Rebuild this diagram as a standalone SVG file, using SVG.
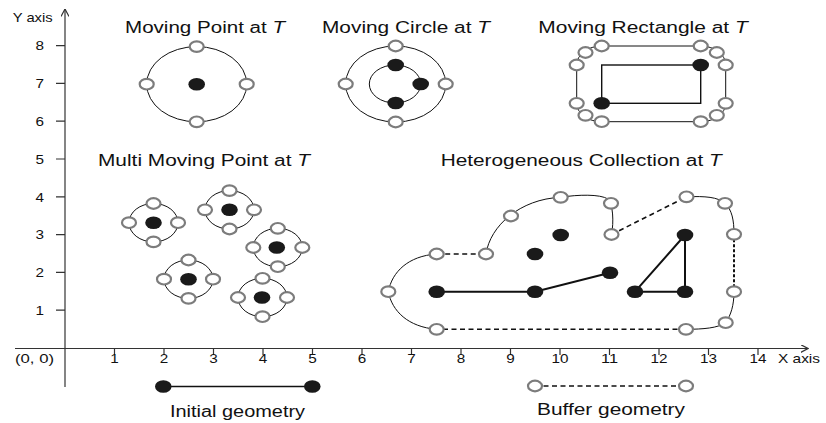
<svg xmlns="http://www.w3.org/2000/svg" width="826" height="423" viewBox="0 0 826 423">
<defs>
<style>
text{font-family:"Liberation Sans",Arial,sans-serif;fill:#111}
.title{font-size:16px}
.lab{font-size:13px}
.it{font-style:italic}
.axis{fill:none;stroke:#333;stroke-width:1.2}
.thin{fill:none;stroke:#111;stroke-width:1}
.mid{fill:none;stroke:#111;stroke-width:1.4}
.thick{fill:none;stroke:#111;stroke-width:2}
.dash{fill:none;stroke:#111;stroke-width:1.6;stroke-dasharray:5 3.5}
.dotted{fill:none;stroke:#111;stroke-width:2;stroke-dasharray:3 2}
.hollow{fill:#fff;stroke:#7c7c7c;stroke-width:2.2}
.dot{fill:#1a1a1a}
</style>
<marker id="arr" viewBox="0 0 8 8" refX="7.5" refY="4" markerWidth="8" markerHeight="8" markerUnits="userSpaceOnUse" orient="auto">
<path d="M0,0 L7.5,4 L0,8" fill="none" stroke="#333" stroke-width="1.2"/>
</marker>
</defs>
<rect width="826" height="423" fill="#fff"/>

<g id="axes">
<line x1="65" y1="387" x2="65" y2="9" class="axis" marker-end="url(#arr)"/>
<line x1="15" y1="348.5" x2="808" y2="348.5" class="axis" marker-end="url(#arr)"/>
<path class="axis" d="M56,45.6H65M56,83.4H65M56,121.2H65M56,159H65M56,196.8H65M56,234.6H65M56,272.4H65M56,310.2H65"/>
<path class="axis" d="M114.5,348.5V355M164,348.5V355M213.5,348.5V355M263,348.5V355M312.5,348.5V355M362,348.5V355M411.5,348.5V355M461,348.5V355M510.5,348.5V355M560,348.5V355M609.5,348.5V355M659,348.5V355M708.5,348.5V355M758,348.5V355"/>
<g class="lab" text-anchor="end">
<text x="44" y="50.3" textLength="8.5" lengthAdjust="spacingAndGlyphs">8</text>
<text x="44" y="88.1" textLength="8.5" lengthAdjust="spacingAndGlyphs">7</text>
<text x="44" y="125.9" textLength="8.5" lengthAdjust="spacingAndGlyphs">6</text>
<text x="44" y="163.7" textLength="8.5" lengthAdjust="spacingAndGlyphs">5</text>
<text x="44" y="201.5" textLength="8.5" lengthAdjust="spacingAndGlyphs">4</text>
<text x="44" y="239.3" textLength="8.5" lengthAdjust="spacingAndGlyphs">3</text>
<text x="44" y="277.1" textLength="8.5" lengthAdjust="spacingAndGlyphs">2</text>
<text x="44" y="314.9" textLength="8.5" lengthAdjust="spacingAndGlyphs">1</text>
</g>
<g class="lab" text-anchor="middle">
<text x="114.5" y="362.5" textLength="8.5" lengthAdjust="spacingAndGlyphs">1</text>
<text x="164" y="362.5" textLength="8.5" lengthAdjust="spacingAndGlyphs">2</text>
<text x="213.5" y="362.5" textLength="8.5" lengthAdjust="spacingAndGlyphs">3</text>
<text x="263" y="362.5" textLength="8.5" lengthAdjust="spacingAndGlyphs">4</text>
<text x="312.5" y="362.5" textLength="8.5" lengthAdjust="spacingAndGlyphs">5</text>
<text x="362" y="362.5" textLength="8.5" lengthAdjust="spacingAndGlyphs">6</text>
<text x="411.5" y="362.5" textLength="8.5" lengthAdjust="spacingAndGlyphs">7</text>
<text x="461" y="362.5" textLength="8.5" lengthAdjust="spacingAndGlyphs">8</text>
<text x="510.5" y="362.5" textLength="8.5" lengthAdjust="spacingAndGlyphs">9</text>
<text x="560" y="362.5" textLength="17" lengthAdjust="spacingAndGlyphs">10</text>
<text x="609.5" y="362.5" textLength="17" lengthAdjust="spacingAndGlyphs">11</text>
<text x="659" y="362.5" textLength="17" lengthAdjust="spacingAndGlyphs">12</text>
<text x="708.5" y="362.5" textLength="17" lengthAdjust="spacingAndGlyphs">13</text>
<text x="758" y="362.5" textLength="17" lengthAdjust="spacingAndGlyphs">14</text>
</g>
<text class="lab" x="12.7" y="22" textLength="40" lengthAdjust="spacingAndGlyphs">Y axis</text>
<text class="lab" x="15" y="362.5" textLength="39" lengthAdjust="spacingAndGlyphs">(0, 0)</text>
<text class="lab" x="778" y="362.5" textLength="42" lengthAdjust="spacingAndGlyphs">X axis</text>
</g>

<g id="moving-point">
<text class="title" x="125" y="32.5" textLength="160" lengthAdjust="spacingAndGlyphs">Moving Point at <tspan class="it">T</tspan></text>
<ellipse cx="196.7" cy="84.2" rx="50" ry="37.6" class="thin"/>
<ellipse cx="146.7" cy="84.2" rx="7" ry="5.3" class="hollow"/>
<ellipse cx="246.7" cy="84.2" rx="7" ry="5.3" class="hollow"/>
<ellipse cx="196.7" cy="46.6" rx="7" ry="5.3" class="hollow"/>
<ellipse cx="196.7" cy="121.8" rx="7" ry="5.3" class="hollow"/>
<ellipse cx="196.7" cy="84.2" rx="8.3" ry="6.3" class="dot"/>
</g>

<g id="moving-circle">
<text class="title" x="322" y="32.5" textLength="168" lengthAdjust="spacingAndGlyphs">Moving Circle at <tspan class="it">T</tspan></text>
<ellipse cx="395.7" cy="84" rx="50" ry="38" class="thin"/>
<ellipse cx="395" cy="84" rx="25.7" ry="19" class="thin"/>
<ellipse cx="345.7" cy="84" rx="7" ry="5.3" class="hollow"/>
<ellipse cx="445.7" cy="84" rx="7" ry="5.3" class="hollow"/>
<ellipse cx="395.7" cy="46" rx="7" ry="5.3" class="hollow"/>
<ellipse cx="395.7" cy="122" rx="7" ry="5.3" class="hollow"/>
<ellipse cx="395.7" cy="65" rx="8.3" ry="6.3" class="dot"/>
<ellipse cx="420.7" cy="84" rx="8.3" ry="6.3" class="dot"/>
<ellipse cx="395.7" cy="103" rx="8.3" ry="6.3" class="dot"/>
</g>

<g id="moving-rectangle">
<text class="title" x="538.3" y="32.5" textLength="209.5" lengthAdjust="spacingAndGlyphs">Moving Rectangle at <tspan class="it">T</tspan></text>
<path class="thin" d="M601.7,46H700.7A25,19 0 0 1 725.7,65V103.3A25,18.4 0 0 1 700.7,121.7H601.7A25,18.4 0 0 1 576.7,103.3V65A25,19 0 0 1 601.7,46Z"/>
<rect x="601.7" y="65" width="99" height="38.3" class="mid"/>
<ellipse cx="601.7" cy="46" rx="7" ry="5.3" class="hollow"/>
<ellipse cx="700.7" cy="46" rx="7" ry="5.3" class="hollow"/>
<ellipse cx="585.5" cy="52.5" rx="7" ry="5.3" class="hollow"/>
<ellipse cx="716.8" cy="52.5" rx="7" ry="5.3" class="hollow"/>
<ellipse cx="576.7" cy="65" rx="7" ry="5.3" class="hollow"/>
<ellipse cx="725.7" cy="65" rx="7" ry="5.3" class="hollow"/>
<ellipse cx="576.7" cy="103.3" rx="7" ry="5.3" class="hollow"/>
<ellipse cx="725.7" cy="103.3" rx="7" ry="5.3" class="hollow"/>
<ellipse cx="585.5" cy="115.3" rx="7" ry="5.3" class="hollow"/>
<ellipse cx="716.8" cy="115.3" rx="7" ry="5.3" class="hollow"/>
<ellipse cx="601.7" cy="121.7" rx="7" ry="5.3" class="hollow"/>
<ellipse cx="700.7" cy="121.7" rx="7" ry="5.3" class="hollow"/>
<ellipse cx="601.7" cy="103.3" rx="8.3" ry="6.3" class="dot"/>
<ellipse cx="700.7" cy="65" rx="8.3" ry="6.3" class="dot"/>
</g>

<g id="multi-moving-point">
<text class="title" x="98" y="165.5" textLength="212" lengthAdjust="spacingAndGlyphs">Multi Moving Point at <tspan class="it">T</tspan></text>
<g id="mmp-1">
<ellipse cx="153.5" cy="222.7" rx="24.5" ry="19.2" class="thin"/>
<ellipse cx="129" cy="222.7" rx="7" ry="5.3" class="hollow"/>
<ellipse cx="178" cy="222.7" rx="7" ry="5.3" class="hollow"/>
<ellipse cx="153.5" cy="203.5" rx="7" ry="5.3" class="hollow"/>
<ellipse cx="153.5" cy="241.9" rx="7" ry="5.3" class="hollow"/>
<ellipse cx="153.5" cy="222.7" rx="8.3" ry="6.3" class="dot"/>
</g>
<g id="mmp-2">
<ellipse cx="229.5" cy="209.8" rx="24.5" ry="19.2" class="thin"/>
<ellipse cx="205" cy="209.8" rx="7" ry="5.3" class="hollow"/>
<ellipse cx="254" cy="209.8" rx="7" ry="5.3" class="hollow"/>
<ellipse cx="229.5" cy="190.6" rx="7" ry="5.3" class="hollow"/>
<ellipse cx="229.5" cy="229" rx="7" ry="5.3" class="hollow"/>
<ellipse cx="229.5" cy="209.8" rx="8.3" ry="6.3" class="dot"/>
</g>
<g id="mmp-3">
<ellipse cx="277.8" cy="247.5" rx="24.5" ry="19.2" class="thin"/>
<ellipse cx="253.3" cy="247.5" rx="7" ry="5.3" class="hollow"/>
<ellipse cx="302.3" cy="247.5" rx="7" ry="5.3" class="hollow"/>
<ellipse cx="277.8" cy="228.3" rx="7" ry="5.3" class="hollow"/>
<ellipse cx="277.8" cy="266.7" rx="7" ry="5.3" class="hollow"/>
<ellipse cx="276.8" cy="247.5" rx="8.3" ry="6.3" class="dot"/>
</g>
<g id="mmp-4">
<ellipse cx="188.5" cy="279.2" rx="24.5" ry="19.2" class="thin"/>
<ellipse cx="164" cy="279.2" rx="7" ry="5.3" class="hollow"/>
<ellipse cx="213" cy="279.2" rx="7" ry="5.3" class="hollow"/>
<ellipse cx="188.5" cy="260" rx="7" ry="5.3" class="hollow"/>
<ellipse cx="188.5" cy="298.4" rx="7" ry="5.3" class="hollow"/>
<ellipse cx="188.5" cy="279.2" rx="8.3" ry="6.3" class="dot"/>
</g>
<g id="mmp-5">
<ellipse cx="262.5" cy="297.5" rx="24.5" ry="19.2" class="thin"/>
<ellipse cx="238" cy="297.5" rx="7" ry="5.3" class="hollow"/>
<ellipse cx="287" cy="297.5" rx="7" ry="5.3" class="hollow"/>
<ellipse cx="262.5" cy="278.3" rx="7" ry="5.3" class="hollow"/>
<ellipse cx="262.5" cy="316.7" rx="7" ry="5.3" class="hollow"/>
<ellipse cx="262" cy="297.5" rx="8.3" ry="6.3" class="dot"/>
</g>
</g>

<g id="heterogeneous-collection">
<text class="title" x="440.7" y="166" textLength="281" lengthAdjust="spacingAndGlyphs">Heterogeneous Collection at <tspan class="it">T</tspan></text>
</g>

<g id="connectors">
<path class="thin" d="M436.7,254C408,256 392,272 388.3,291.7C392,311 408,327 436.7,329.3"/>
<line class="dash" x1="436.7" y1="254" x2="486" y2="254"/>
<path class="thin" d="M486,254C490,226 520,199 560.7,197.3C578,194.5 600,194 608,199C613,204 614,222 611.5,234.5"/>
<line class="dash" x1="611.5" y1="234.5" x2="686.5" y2="196.8"/>
<path class="thin" d="M686.5,196.8C705,196 718,197 725,203.3C732,210 734,220 734,234.3"/>
<line class="dotted" x1="734" y1="234.3" x2="734" y2="291.7"/>
<path class="thin" d="M734,291.7C734,305 731,315 725.7,322.7C718,328 703,329.3 686,329.3"/>
<line class="dash" x1="686" y1="329.3" x2="436.7" y2="329.3"/>
<polyline class="thick" points="436.7,291.7 535,291.7 610,272.7"/>
<polygon class="thick" points="635,291.7 685,235 685,291.7"/>
<line class="mid" x1="163.3" y1="386.5" x2="312.3" y2="386.5"/>
<line class="dash" x1="535" y1="386" x2="686" y2="386"/>
</g>

<g id="heterogeneous-points">
<ellipse cx="388.3" cy="291.7" rx="7" ry="5.3" class="hollow"/>
<ellipse cx="436.7" cy="254" rx="7" ry="5.3" class="hollow"/>
<ellipse cx="436.7" cy="329.3" rx="7" ry="5.3" class="hollow"/>
<ellipse cx="486" cy="254" rx="7" ry="5.3" class="hollow"/>
<ellipse cx="511" cy="216" rx="7" ry="5.3" class="hollow"/>
<ellipse cx="560.7" cy="197.3" rx="7" ry="5.3" class="hollow"/>
<ellipse cx="611" cy="203.3" rx="7" ry="5.3" class="hollow"/>
<ellipse cx="611.5" cy="234.5" rx="7" ry="5.3" class="hollow"/>
<ellipse cx="686.5" cy="196.8" rx="7" ry="5.3" class="hollow"/>
<ellipse cx="725" cy="203.3" rx="7" ry="5.3" class="hollow"/>
<ellipse cx="734" cy="234.3" rx="7" ry="5.3" class="hollow"/>
<ellipse cx="734" cy="291.7" rx="7" ry="5.3" class="hollow"/>
<ellipse cx="725.7" cy="322.7" rx="7" ry="5.3" class="hollow"/>
<ellipse cx="686" cy="329.3" rx="7" ry="5.3" class="hollow"/>
<ellipse cx="436.7" cy="291.7" rx="8.3" ry="6.3" class="dot"/>
<ellipse cx="535" cy="291.7" rx="8.3" ry="6.3" class="dot"/>
<ellipse cx="535" cy="254" rx="8.3" ry="6.3" class="dot"/>
<ellipse cx="560.7" cy="235" rx="8.3" ry="6.3" class="dot"/>
<ellipse cx="610" cy="272.7" rx="8.3" ry="6.3" class="dot"/>
<ellipse cx="635" cy="291.7" rx="8.3" ry="6.3" class="dot"/>
<ellipse cx="685" cy="291.7" rx="8.3" ry="6.3" class="dot"/>
<ellipse cx="685" cy="235" rx="8.3" ry="6.3" class="dot"/>
</g>

<g id="legend-initial">
<ellipse cx="163.3" cy="386.5" rx="8.3" ry="6.3" class="dot"/>
<ellipse cx="312.3" cy="386.5" rx="8.3" ry="6.3" class="dot"/>
<text class="title" x="170" y="417" textLength="135" lengthAdjust="spacingAndGlyphs">Initial geometry</text>
</g>

<g id="legend-buffer">
<ellipse cx="535" cy="386" rx="7" ry="5.3" class="hollow"/>
<ellipse cx="686" cy="386" rx="7" ry="5.3" class="hollow"/>
<text class="title" x="537" y="415" textLength="148" lengthAdjust="spacingAndGlyphs">Buffer geometry</text>
</g>
</svg>
